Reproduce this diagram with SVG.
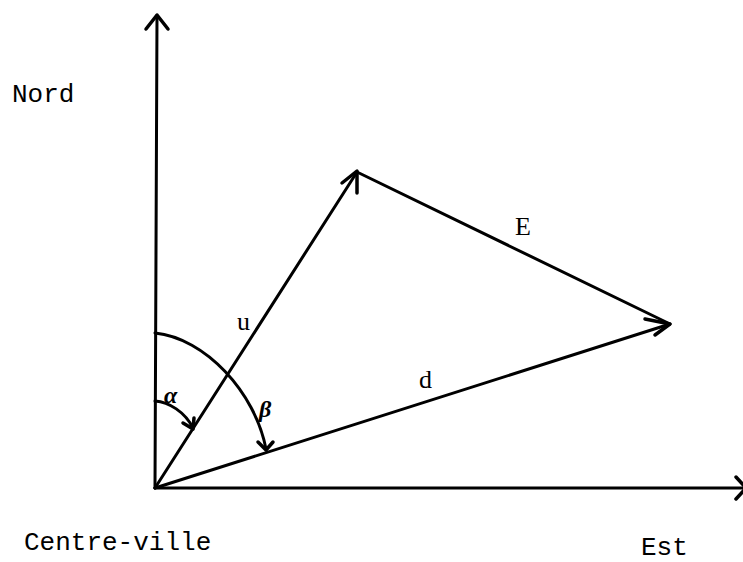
<svg xmlns="http://www.w3.org/2000/svg" width="743" height="562" viewBox="0 0 743 562">
<style>
.ln{fill:none;stroke:#000;stroke-width:3;stroke-linecap:round;stroke-linejoin:round}
.ah{fill:none;stroke:#000;stroke-width:3.5;stroke-linecap:round;stroke-linejoin:round}
.mono{font-family:"Liberation Mono","Courier New",monospace;font-size:26px;fill:#000}
.ser{font-family:"Liberation Serif","Times New Roman",serif;font-size:26px;fill:#000}
.gr{font-family:"Liberation Serif","Times New Roman",serif;font-size:24px;font-style:italic;font-weight:bold;fill:#000}
</style>
<rect width="743" height="562" fill="#fff"/>
<g id="connectors">
  <g id="axis-nord"><line class="ln" x1="155" y1="488" x2="157" y2="16"/><polyline class="ah" points="146,29 157,15 168,29"/></g>
  <g id="axis-est"><line class="ln" x1="155" y1="488" x2="745" y2="488"/><polyline class="ah" points="736,477 746,488 736,499"/></g>
  <g id="vec-u"><line class="ln" x1="155" y1="488" x2="357" y2="172"/><polyline class="ah" points="342,183 357,171 357,193"/></g>
  <g id="vec-d"><line class="ln" x1="155" y1="488" x2="670" y2="324"/><polyline class="ah" points="645,319 670,324 655,335"/></g>
  <g id="vec-E"><line class="ln" x1="357" y1="172" x2="668" y2="323"/></g>
  <g id="arc-alpha"><path class="ln" d="M155,401 C169,402 185,412 193,428"/><polyline class="ah" points="183,423 193,429 194,418"/></g>
  <g id="arc-beta"><path class="ln" d="M155,333 C205,338 255,392 266,449"/><polyline class="ah" points="258,442 266,450 273,442"/></g>
</g>
<g id="label-nord"><text class="mono" x="12" y="102">Nord</text></g>
<g id="label-centre"><text class="mono" x="24" y="550">Centre-ville</text></g>
<g id="label-est"><text class="mono" x="641" y="555">Est</text></g>
<g id="label-u"><text class="ser" x="237" y="330">u</text></g>
<g id="label-E"><text class="ser" x="515" y="235">E</text></g>
<g id="label-d"><text class="ser" x="419" y="388">d</text></g>
<g id="label-alpha"><text class="gr" x="164" y="403">α</text></g>
<g id="label-beta"><text class="gr" x="259" y="417">β</text></g>
</svg>
